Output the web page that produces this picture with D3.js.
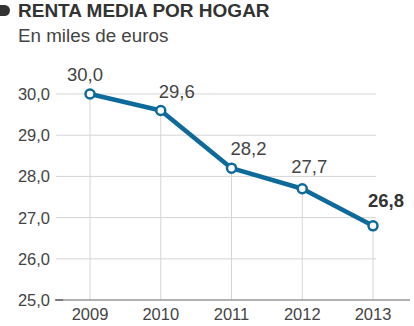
<!DOCTYPE html>
<html><head><meta charset="utf-8">
<script src="https://cdn.jsdelivr.net/npm/d3@7"></script>
<style>body{margin:0;background:#fff;}svg{display:block;font-family:"Liberation Sans",Arial,sans-serif;}</style>
</head><body><svg id="c" width="414" height="326"></svg>
<script>
const years = ["2009","2010","2011","2012","2013"];
const values = [30.0, 29.6, 28.2, 27.7, 26.8];
const labels = ["30,0","29,6","28,2","27,7","26,8"];
const yTicks = [25, 26, 27, 28, 29, 30];
const title = "RENTA MEDIA POR HOGAR";
const subtitle = "En miles de euros";

// label placement (layout only)
const labelDx = [-5, 16, 17, 7, 13];
const labelDy = [-13, -12.5, -13, -16, -19];

const svg = d3.select("#c");
const x = d3.scalePoint().domain(years).range([90, 373]);
const y = d3.scaleLinear().domain([25, 30]).range([300, 94]);
const fmt = d => d.toFixed(1).replace(".", ",");

// title
svg.append("path").attr("d","M0,5 L4.5,5 A5.5,5.5 0 0 1 4.5,16 L0,16 Z").attr("fill","#333");
svg.append("text").attr("x",18).attr("y",16.5).attr("font-size",19).attr("font-weight","bold").attr("fill","#333").text(title);
svg.append("text").attr("x",18).attr("y",41.5).attr("font-size",18.8).attr("fill","#444").text(subtitle);

// horizontal grid
svg.append("g").selectAll("line").data(yTicks.filter(d=>d>25)).join("line")
  .attr("x1",56).attr("x2",376).attr("y1",d=>y(d)).attr("y2",d=>y(d))
  .attr("stroke","#d4d4d4").attr("stroke-width",1);

// vertical grid from point to baseline
svg.append("g").selectAll("line").data(years).join("line")
  .attr("x1",d=>x(d)).attr("x2",d=>x(d))
  .attr("y1",(d,i)=>y(values[i])).attr("y2",y(25))
  .attr("stroke","#d4d4d4").attr("stroke-width",1);

// baseline
svg.append("line").attr("x1",56).attr("x2",410).attr("y1",y(25)).attr("y2",y(25))
  .attr("stroke","#999").attr("stroke-width",1.5);
svg.append("line").attr("x1",55).attr("x2",63).attr("y1",y(25)).attr("y2",y(25))
  .attr("stroke","#666").attr("stroke-width",1.5);

// y labels
svg.append("g").selectAll("text").data(yTicks).join("text")
  .attr("x",50).attr("y",d=>y(d)+6).attr("text-anchor","end")
  .attr("font-size",16.5).attr("fill","#444").text(fmt);

// x labels
svg.append("g").selectAll("text").data(years).join("text")
  .attr("x",d=>x(d)).attr("y",320).attr("text-anchor","middle")
  .attr("font-size",16.5).attr("fill","#444").text(d=>d);

// line
const line = d3.line().x((d,i)=>x(years[i])).y(d=>y(d));
svg.append("path").datum(values).attr("d",line).attr("fill","none")
  .attr("stroke","#0e6a9a").attr("stroke-width",4.5).attr("stroke-linejoin","round");

svg.append("g").selectAll("circle").data(values).join("circle")
  .attr("cx",(d,i)=>x(years[i])).attr("cy",d=>y(d)).attr("r",4.5)
  .attr("fill","#fff").attr("stroke","#0e6a9a").attr("stroke-width",2.5);

// value labels
svg.append("g").selectAll("text").data(values).join("text")
  .attr("x",(d,i)=> x(years[i]) + labelDx[i])
  .attr("y",(d,i)=> y(d) + labelDy[i])
  .attr("text-anchor","middle")
  .attr("font-size",18.5)
  .attr("font-weight",(d,i)=> i===4 ? "bold" : "normal")
  .attr("fill",(d,i)=> i===4 ? "#333" : "#444")
  .text((d,i)=>labels[i]);
</script></body></html>
